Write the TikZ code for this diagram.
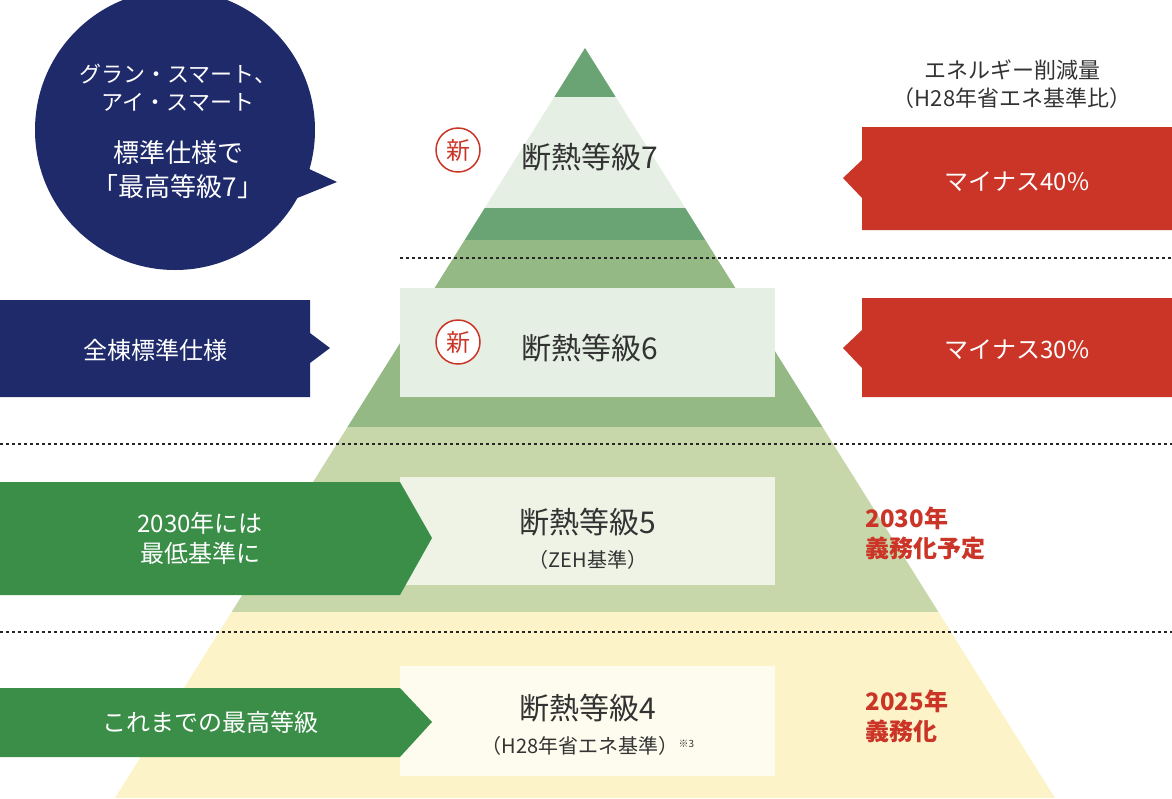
\documentclass[tikz,border=0pt]{standalone}
\usepackage{fontspec}
\setmainfont{Noto Sans CJK JP}
\usetikzlibrary{positioning}
\definecolor{navy}{HTML}{1F2A6B}
\definecolor{gdark}{HTML}{6AA374}
\definecolor{gmid}{HTML}{95B985}
\definecolor{glight}{HTML}{C8D7A9}
\definecolor{gpale}{HTML}{E5EFE3}
\definecolor{ylw}{HTML}{FCF4C8}
\definecolor{redc}{HTML}{CB3527}
\definecolor{arrg}{HTML}{3A8E48}
\tikzset{
  lvl/.style={font=\fontsize{30}{34}\selectfont, text=black!80, align=center},
  sub/.style={font=\fontsize{20}{24}\selectfont, text=black!80},
  wtxt/.style={font=\fontsize{24}{30}\selectfont, text=white, align=center},
  rtxt/.style={font=\fontsize{24}{30}\selectfont\bfseries, text=redc, align=left, anchor=west},
  badge/.style={circle, draw=redc, line width=1.5pt, fill=white, text=redc, minimum size=44pt, inner sep=0pt, font=\fontsize{24}{24}\selectfont},
  sep/.style={dashed, line width=1.3pt, black!85}
}
\begin{document}
\begin{tikzpicture}[x=1pt,y=-1pt]
\useasboundingbox (0,0) rectangle (1172,798);
% pyramid clipped into bands
\begin{scope}
\clip (585,48) -- (1055,798) -- (115,798) -- cycle;
\fill[gdark] (0,0) rectangle (1172,97);
\fill[gpale] (0,97) rectangle (1172,208);
\fill[gdark] (0,208) rectangle (1172,240);
\fill[gmid] (0,240) rectangle (1172,427);
\fill[glight] (0,427) rectangle (1172,612);
\fill[ylw] (0,612) rectangle (1172,798);
\end{scope}
\fill[gpale] (400,288) rectangle (775,397);
\fill[white!70!glight] (400,477) rectangle (775,585);
\fill[white!70!ylw] (400,666) rectangle (775,776);
% dashed separators
\draw[sep] (400,258) -- (1172,258);
\draw[sep] (0,444) -- (1172,444);
\draw[sep] (0,632) -- (1172,632);
% levels
\node[lvl] (g7) at (590,157) {断熱等級7};
\node[badge] (n7) at (458,150) {新};
\node[lvl] (g6) at (590,348) {断熱等級6};
\node[badge] (n6) at (458,342) {新};
\node[lvl] (g5) at (588,522) {断熱等級5};
\node[sub] (z5) at (588,560) {（ZEH基準）};
\node[lvl] (g4) at (588,708) {断熱等級4};
\node[sub] (z4) at (588,746) {（H28年省エネ基準）\raisebox{6pt}{\fontsize{10}{10}\selectfont ※3}};
% left callouts
\fill[navy] (175,130) circle (140);
\fill[navy] (290,160) -- (337,182) -- (280,205) -- cycle;
\node[wtxt, font=\fontsize{22}{28}\selectfont] (c1) at (178,88) {グラン・スマート、\\アイ・スマート};
\node[wtxt, font=\fontsize{26}{34}\selectfont] (c2) at (178,170) {標準仕様で\\「最高等級7」};
\fill[navy] (0,300) -- (310,300) -- (310,333) -- (330,348) -- (310,363) -- (310,397) -- (0,397) -- cycle;
\node[wtxt] (all) at (155,350) {全棟標準仕様};
\fill[arrg] (0,482) -- (400,482) -- (432,538) -- (400,595) -- (0,595) -- cycle;
\node[wtxt] (a30) at (200,538) {2030年には\\最低基準に};
\fill[arrg] (0,688) -- (400,688) -- (432,722) -- (400,757) -- (0,757) -- cycle;
\node[wtxt] (a25) at (210,722) {これまでの最高等級};
% right side
\node[font=\fontsize{22}{28}\selectfont, text=black!80, align=center] (hd) at (1012,84) {エネルギー削減量\\（H28年省エネ基準比）};
\fill[redc] (862,127) -- (1172,127) -- (1172,230) -- (862,230) -- (862,198) -- (843,178) -- (862,160) -- cycle;
\node[wtxt] (m40) at (1017,182) {マイナス40\%};
\fill[redc] (862,298) -- (1172,298) -- (1172,397) -- (862,397) -- (862,368) -- (843,348) -- (862,330) -- cycle;
\node[wtxt] (m30) at (1017,350) {マイナス30\%};
\node[rtxt] (y30) at (862,533) {2030年\\義務化予定};
\node[rtxt] (y25) at (862,716) {2025年\\義務化};
\end{tikzpicture}
\end{document}
